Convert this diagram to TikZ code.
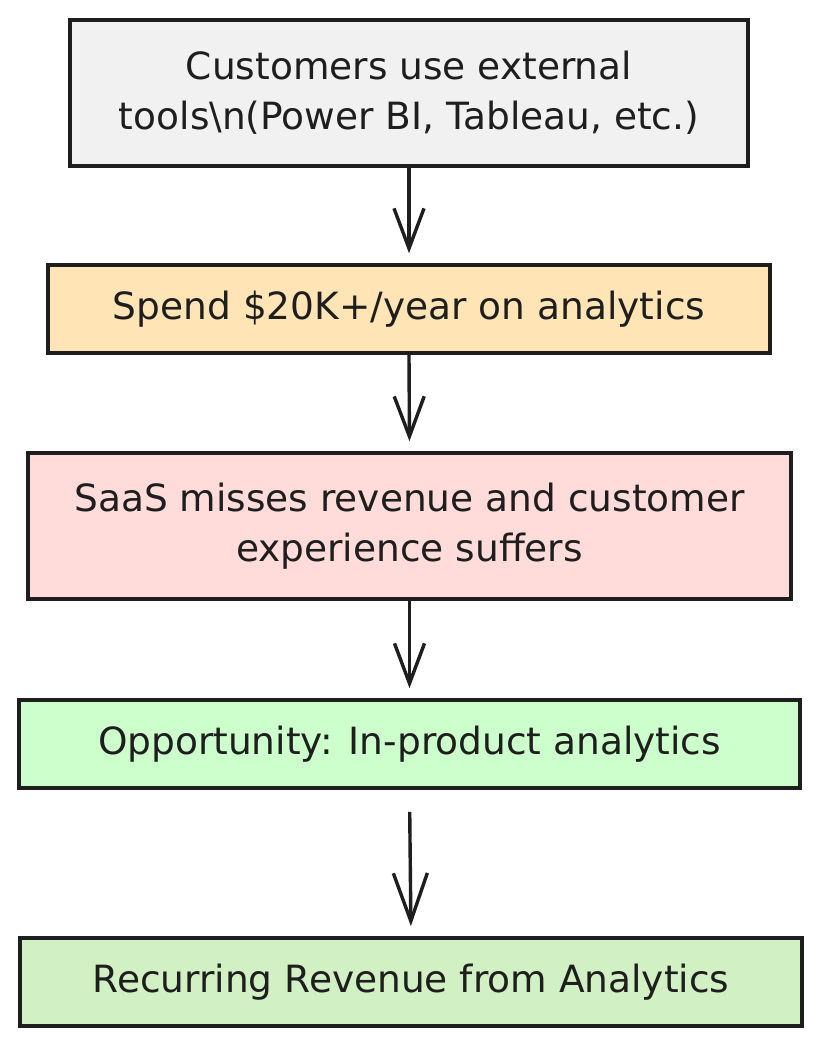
\documentclass[tikz,border=0pt]{standalone}
\usepackage{fontspec}
\setmainfont{DejaVu Sans}
\usetikzlibrary{arrows.meta}
\definecolor{ink}{HTML}{1E1E1E}
\definecolor{fgray}{HTML}{F1F1F1}
\definecolor{forange}{HTML}{FFE5B5}
\definecolor{fpink}{HTML}{FFDCDA}
\definecolor{fgreen}{HTML}{CCFFCC}
\definecolor{fgreen2}{HTML}{D1F0C3}
\tikzset{
  box/.style={draw=ink, line width=3.6pt, rectangle, align=center, text=ink,
    font=\fontsize{37.5}{50}\selectfont, inner sep=0pt},
  flow/.style={draw=ink, line width=3.4pt,
    -{Straight Barb[length=40pt,width=30pt,line width=3.4pt]}, shorten >=10pt}
}
\begin{document}
\begin{tikzpicture}[x=1pt,y=-1pt]
\useasboundingbox[fill=white] (0,0) rectangle (821,1046);
\node[box, fill=fgray, minimum width=678pt, minimum height=146pt] (a) at (409,93)
  {Customers use external\\tools\textbackslash n(Power BI, Tableau, etc.)};
\node[box, fill=forange, minimum width=722pt, minimum height=88pt] (b) at (409,309)
  {Spend \$20K+/year on analytics};
\node[box, fill=fpink, minimum width=763pt, minimum height=146pt] (c) at (409.5,526)
  {SaaS misses revenue and customer\\experience suffers};
\node[box, fill=fgreen, minimum width=781pt, minimum height=88pt] (d) at (409.5,744)
  {Opportunity: In-product analytics};
\node[box, fill=fgreen2, minimum width=782pt, minimum height=88pt] (e) at (411,982)
  {Recurring Revenue from Analytics};
\draw[flow] (a.south) -- (b.north);
\draw[flow] (b.south) -- (c.north);
\draw[flow] (c.south) -- (d.north);
\draw[flow, shorten <=22pt, -{Straight Barb[length=48pt,width=34pt,line width=3.4pt]}] (d.south) -- (e.north);
\end{tikzpicture}
\end{document}
